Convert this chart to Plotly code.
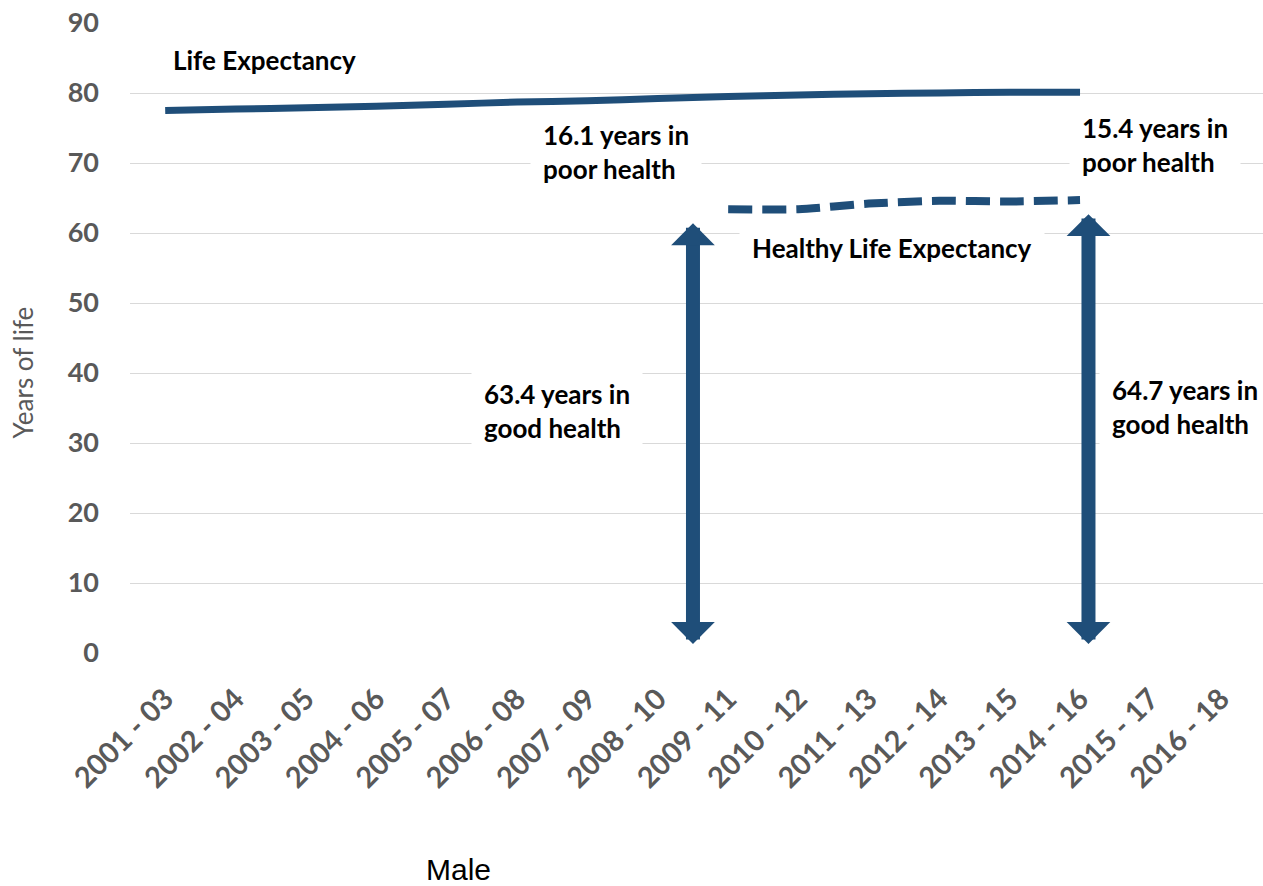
import plotly.graph_objects as go

# Three-year periods on the x axis
periods = [
    "2001 - 03", "2002 - 04", "2003 - 05", "2004 - 06", "2005 - 07",
    "2006 - 08", "2007 - 09", "2008 - 10", "2009 - 11", "2010 - 12",
    "2011 - 13", "2012 - 14", "2013 - 15", "2014 - 16", "2015 - 17",
    "2016 - 18",
]

# Male life expectancy at birth (years), 2001-03 to 2014-16
life_expectancy = [77.5, 77.7, 77.9, 78.1, 78.4, 78.7, 78.9, 79.2,
                   79.5, 79.7, 79.9, 80.0, 80.1, 80.1]

# Male healthy life expectancy (years), 2009-11 to 2014-16
hle_periods = periods[8:14]
healthy_life_expectancy = [63.4, 63.4, 64.2, 64.6, 64.5, 64.7]

y_ticks = [0, 10, 20, 30, 40, 50, 60, 70, 80, 90]

BLUE = "#1F4E79"
GREY = "#595959"
LABEL_FONT = dict(family="Lato", size=26, color="black", weight="bold")

fig = go.Figure()

fig.add_trace(go.Scatter(
    x=periods[:len(life_expectancy)], y=life_expectancy,
    mode="lines", line=dict(color=BLUE, width=7, shape="spline", smoothing=0.6),
    name="Life Expectancy", hoverinfo="x+y",
))

fig.add_trace(go.Scatter(
    x=hle_periods, y=healthy_life_expectancy,
    mode="lines",
    line=dict(color=BLUE, width=8, dash="24px,10px", shape="spline", smoothing=0.6),
    name="Healthy Life Expectancy", hoverinfo="x+y",
))

# Gap between the arrow tips and the lines they point at
ARROW_TOP_GAP = 1.8
ARROW_BOTTOM = 1.3

annotations = []

# Double-headed arrows marking years in good health
for xi, hle in [(7.5, healthy_life_expectancy[0]), (13.12, healthy_life_expectancy[-1])]:
    annotations.append(dict(
        x=xi, y=ARROW_BOTTOM, xref="x", yref="y",
        ax=xi, ay=hle - ARROW_TOP_GAP, axref="x", ayref="y",
        text="", showarrow=True, arrowside="end+start",
        arrowhead=1, startarrowhead=1,
        arrowsize=0.52, startarrowsize=0.52,
        arrowwidth=14, arrowcolor=BLUE,
        standoff=0, startstandoff=0,
    ))

poor_left = round(life_expectancy[8] - healthy_life_expectancy[0], 1)
poor_right = round(life_expectancy[13] - healthy_life_expectancy[-1], 1)

text_labels = [
    ("Life Expectancy", 1.41, 84.7, "center"),
    (f"{poor_left} years in<br>poor health", 6.4, 71.6, "left"),
    (f"{poor_right} years in<br>poor health", 14.06, 72.6, "left"),
    ("Healthy Life Expectancy", 10.33, 57.9, "center"),
    (f"{healthy_life_expectancy[0]} years in<br>good health", 5.57, 34.6, "left"),
    (f"{healthy_life_expectancy[-1]} years in<br>good health", 14.49, 35.1, "left"),
]

for text, xi, yv, align in text_labels:
    annotations.append(dict(
        x=xi, y=yv, xref="x", yref="y",
        text=text, showarrow=False, align=align,
        font=LABEL_FONT, bgcolor="white", borderpad=12,
        xanchor="center", yanchor="middle",
    ))

# Axis title and panel caption
annotations.append(dict(
    x=-0.094, y=0.446, xref="paper", yref="paper",
    text="Years of life", textangle=-90, showarrow=False,
    font=dict(family="Lato", size=26, color=GREY),
    xanchor="center", yanchor="middle",
))
annotations.append(dict(
    x=0.2895, y=-0.343, xref="paper", yref="paper",
    text="Male", showarrow=False,
    font=dict(family="Liberation Sans", size=30, color="black"),
    xanchor="center", yanchor="middle",
))

fig.update_layout(
    width=1263, height=886,
    margin=dict(l=130, r=0, t=23, b=233),
    paper_bgcolor="white", plot_bgcolor="white",
    showlegend=False,
    annotations=annotations,
    xaxis=dict(
        type="category", categoryorder="array", categoryarray=periods,
        range=[-0.5, len(periods) - 0.4],
        tickmode="array", tickvals=periods, ticktext=periods,
        tickangle=-45, showgrid=False, showline=False, zeroline=False,
        ticks="", ticklabelstandoff=22,
        tickfont=dict(family="Lato", size=29, color=GREY, weight="bold"),
    ),
    yaxis=dict(
        range=[0, 90], tickvals=y_ticks, showgrid=True,
        gridcolor="#D9D9D9", gridwidth=1, zeroline=False, showline=False,
        ticks="", ticklabelstandoff=30,
        tickfont=dict(family="Lato", size=27, color=GREY, weight="bold"),
    ),
)

fig.write_html("out.html")
